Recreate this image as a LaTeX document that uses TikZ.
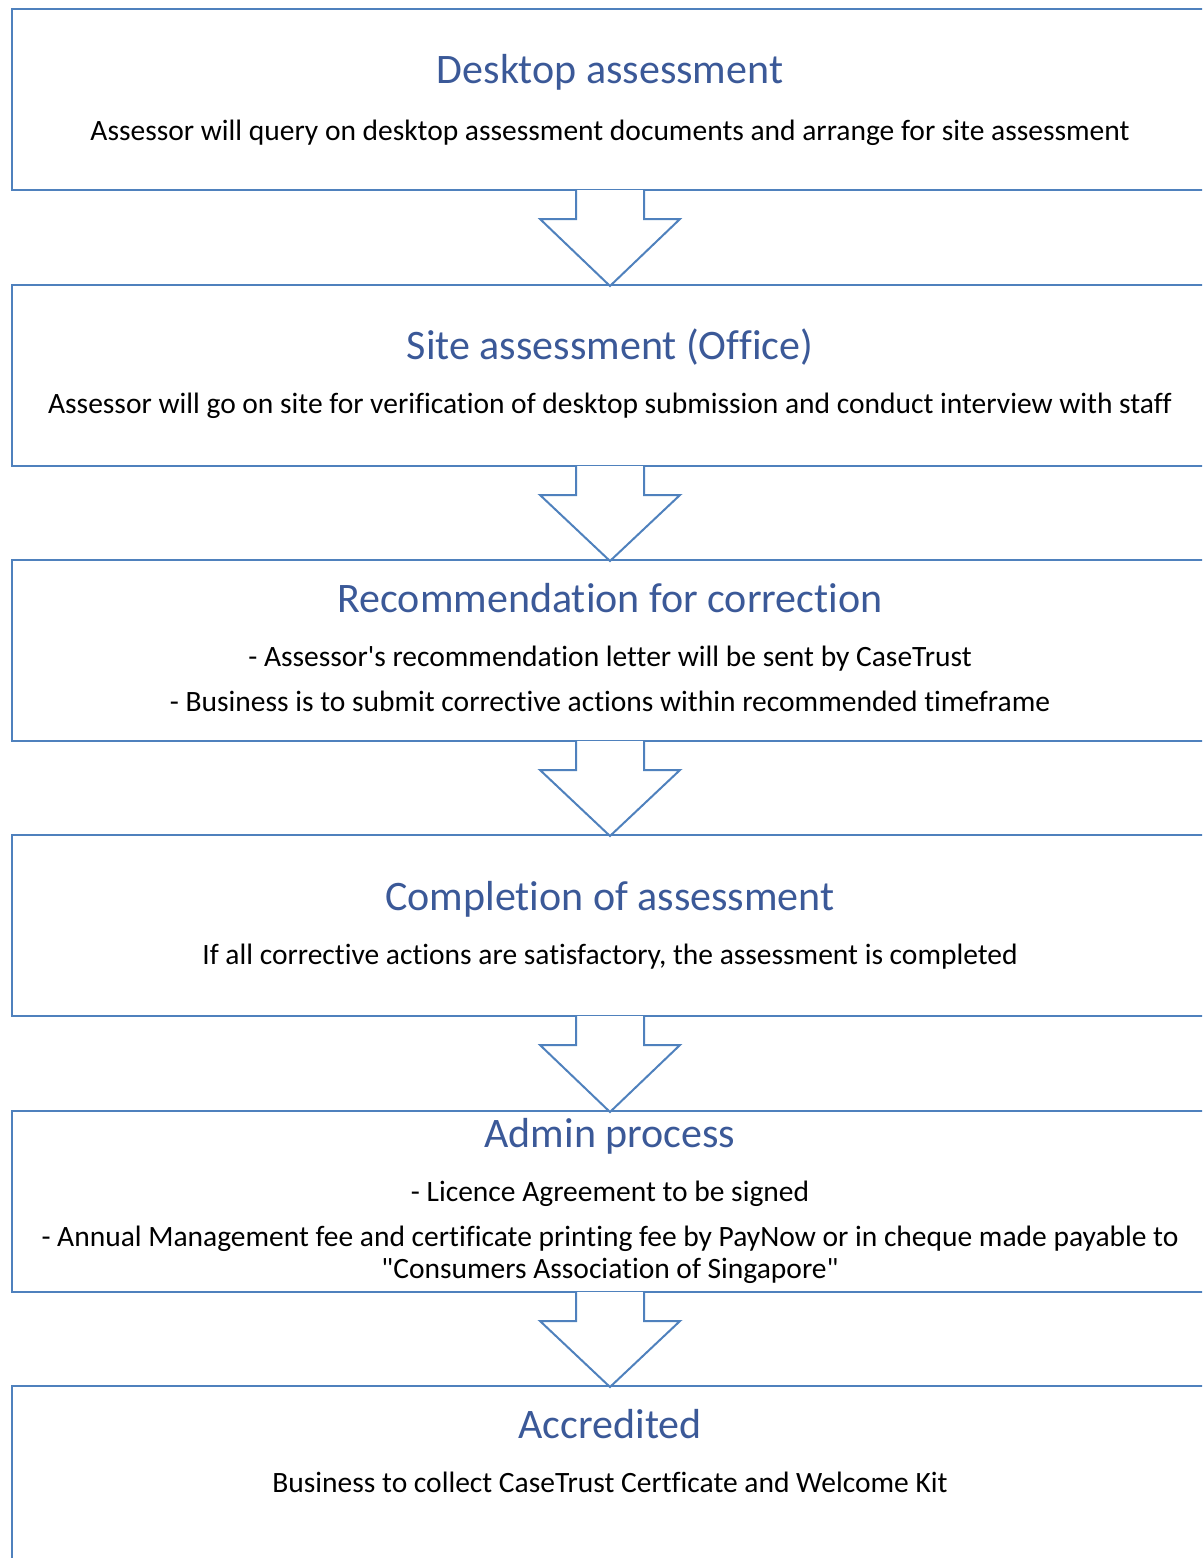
\documentclass[tikz,border=0pt]{standalone}
\usepackage{fontspec}
\setmainfont{Carlito}[Ligatures={TeXOff,NoCommon}]
\usepackage{xcolor}
\usetikzlibrary{calc, positioning}

\definecolor{boxblue}{RGB}{79,129,189}
\definecolor{titleblue}{RGB}{59,89,152}

\begin{document}
\begin{tikzpicture}[
    x=1pt, y=-1pt,
    stage/.style={rectangle, draw=boxblue, line width=2pt, minimum width=1196pt, minimum height=181pt, anchor=north west, inner sep=0pt},
    stagetitle/.style={anchor=base, inner sep=0pt, text=titleblue, font=\fontsize{42}{50}\selectfont},
    stagetext/.style={anchor=base, inner sep=0pt, font=\fontsize{29.5}{34}\selectfont},
    downarrow/.style={draw=boxblue, fill=white, line width=2pt, line join=miter},
]
\clip (0,0) rectangle (1202,1558);

% stages
\node[stage] (b1) at (11,8) {};
\node[stage] (b2) at (11,284) {};
\node[stage] (b3) at (11,559) {};
\node[stage] (b4) at (11,834) {};
\node[stage] (b5) at (11,1110) {};
\node[stage] (b6) at (11,1385) {};

% block arrows between stages
\foreach \a/\b in {b1/b2, b2/b3, b3/b4, b4/b5, b5/b6} {
    \draw[downarrow] ($(\a.south)+(-34,-1)$) -- ($(\a.south)+(-34,28)$) -- ($(\a.south)+(-70,28)$)
        -- ($(\b.north)+(0,2)$) -- ($(\a.south)+(70,28)$) -- ($(\a.south)+(34,28)$) -- ($(\a.south)+(34,-1)$);
}

\node[stagetitle] (t1) at ($(b1.north)+(0,75)$) {Desktop assessment};
\node[stagetext] (d1) at ($(b1.north)+(0,132)$) {Assessor will query on desktop assessment documents and arrange for site assessment};

\node[stagetitle] (t2) at ($(b2.north)+(0,75)$) {Site assessment (Office)};
\node[stagetext] (d2) at ($(b2.north)+(0,129)$) {Assessor will go on site for verification of desktop submission and conduct interview with staff};

\node[stagetitle] (t3) at ($(b3.north)+(0,53)$) {Recommendation for correction};
\node[stagetext] (d3a) at ($(b3.north)+(0,107)$) {- Assessor's recommendation letter will be sent by CaseTrust};
\node[stagetext] (d3b) at ($(b3.north)+(0,152)$) {- Business is to submit corrective actions within recommended timeframe};

\node[stagetitle] (t4) at ($(b4.north)+(0,76)$) {Completion of assessment};
\node[stagetext] (d4) at ($(b4.north)+(0,130)$) {If all corrective actions are satisfactory, the assessment is completed};

\node[stagetitle] (t5) at ($(b5.north)+(0,37)$) {Admin process};
\node[stagetext] (d5a) at ($(b5.north)+(0,91)$) {- Licence Agreement to be signed};
\node[stagetext] (d5b) at ($(b5.north)+(0,136)$) {- Annual Management fee and certificate printing fee by PayNow or in cheque made payable to};
\node[stagetext] (d5c) at ($(b5.north)+(0,168)$) {"Consumers Association of Singapore"};

\node[stagetitle] (t6) at ($(b6.north)+(0,53)$) {Accredited};
\node[stagetext] (d6) at ($(b6.north)+(0,107)$) {Business to collect CaseTrust Certficate and Welcome Kit};

\end{tikzpicture}
\end{document}
